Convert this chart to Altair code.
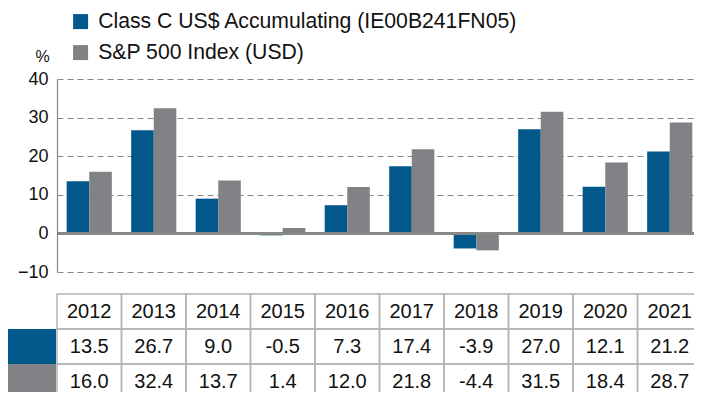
import altair as alt
import pandas as pd

years = ["2012", "2013", "2014", "2015", "2016", "2017", "2018", "2019", "2020", "2021"]
fund = [13.5, 26.7, 9.0, -0.5, 7.3, 17.4, -3.9, 27.0, 12.1, 21.2]
index = [16.0, 32.4, 13.7, 1.4, 12.0, 21.8, -4.4, 31.5, 18.4, 28.7]
s1 = "Class C US$ Accumulating (IE00B241FN05)"
s2 = "S&P 500 Index (USD)"
series = [s1, s2]
colors = ["#02588B", "#818286"]
y_ticks = [-10, 0, 10, 20, 30, 40]
rows = ["Year", s1, s2]

bars = pd.DataFrame(
    [{"year": y, "series": s1, "value": v} for y, v in zip(years, fund)]
    + [{"year": y, "series": s2, "value": v} for y, v in zip(years, index)]
)
table = pd.DataFrame(
    [{"year": y, "row": "Year", "label": y} for y in years]
    + [{"year": y, "row": s1, "label": f"{v:.1f}"} for y, v in zip(years, fund)]
    + [{"year": y, "row": s2, "label": f"{v:.1f}"} for y, v in zip(years, index)]
)
swatch = pd.DataFrame({"row": series})

W, H = 637, 313
XR = [0, 645]

bar_layer = alt.Chart(bars).mark_bar().encode(
    x=alt.X("year:N", sort=years, axis=None,
            scale=alt.Scale(paddingInner=0.3, paddingOuter=0.15, range=XR)),
    xOffset=alt.XOffset("series:N", sort=series),
    y=alt.Y("value:Q",
            scale=alt.Scale(domain=[-10, 40], nice=False, zero=False, range=[193, 0]),
            axis=alt.Axis(values=y_ticks, tickCount=10, ticks=False, labelPadding=9,
                          labelFontSize=18, labelColor="#111",
                          domainColor="#888", domainWidth=1.2,
                          gridColor="#888", gridDash=[6, 4], gridWidth=1.2,
                          title="%", titleAngle=0, titleFontSize=16,
                          titleFontWeight="normal", titleColor="#111",
                          titleAlign="center", titleBaseline="middle",
                          titleX=-15, titleY=-23)),
    color=alt.Color("series:N", scale=alt.Scale(domain=series, range=colors), sort=series,
                    legend=alt.Legend(title=None, orient="none",
                                      legendX=13, legendY=-68,
                                      symbolType="square", symbolSize=225,
                                      symbolStrokeWidth=0,
                                      labelFontSize=21.2, labelColor="#111",
                                      labelOffset=7, rowPadding=9,
                                      labelLimit=600)),
)
zero = alt.Chart(bars).mark_rule(color="#888", strokeWidth=1.5).encode(y=alt.datum(0))
top = alt.layer(bar_layer, zero)

tx = alt.X("year:N", sort=years, axis=None,
           scale=alt.Scale(paddingInner=0, paddingOuter=0, range=XR))
ty = alt.Y("row:N", axis=None,
           scale=alt.Scale(domain=rows, paddingInner=0, paddingOuter=0, range=[215, 320]))
cells = alt.Chart(table).mark_rect(fillOpacity=0, stroke="#b4b4b4", strokeWidth=1.5).encode(
    x=tx, y=ty
)
texts = alt.Chart(table).mark_text(fontSize=20, color="#111").encode(
    x=tx, y=ty, text="label:N"
)
sw = alt.Chart(swatch).mark_rect().encode(
    x=alt.value(-49), x2=alt.value(-1),
    y=ty,
    color=alt.Color("row:N", scale=alt.Scale(domain=series, range=colors), legend=None),
)
bottom = alt.layer(cells, sw, texts)

chart = alt.layer(top, bottom).resolve_scale(
    x="independent", y="independent", color="independent"
).properties(
    width=W, height=H,
    autosize=alt.AutoSizeParams(type="none"),
    padding={"left": 49, "top": 71, "right": 0, "bottom": 0},
).configure(font="Liberation Sans").configure_view(stroke=None)

chart.save("out.html", embed_options={"renderer": "svg", "actions": False})
